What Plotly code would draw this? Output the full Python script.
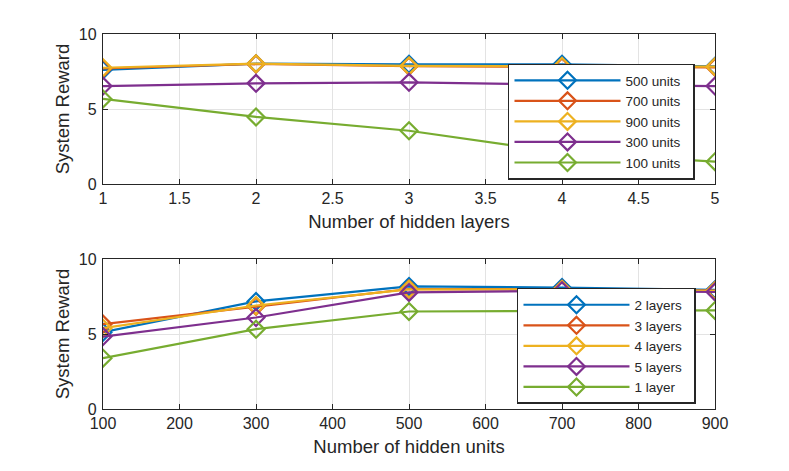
import plotly.graph_objects as go

# top panel: reward vs number of hidden layers
layers = [1, 2, 3, 4, 5]
units_500 = [7.6, 8.02, 7.98, 7.98, 7.85]
units_700 = [7.7, 8.0, 7.85, 7.8, 7.78]
units_900 = [7.75, 8.02, 7.87, 7.85, 7.82]
units_300 = [6.53, 6.71, 6.78, 6.62, 6.53]
units_100 = [5.67, 4.47, 3.55, 2.1, 1.49]

# bottom panel: reward vs number of hidden units
units = [100, 300, 500, 700, 900]
layers_2 = [5.12, 7.17, 8.17, 8.1, 7.95]
layers_3 = [5.66, 6.85, 8.0, 7.98, 7.9]
layers_4 = [5.39, 6.9, 7.98, 7.97, 7.88]
layers_5 = [4.83, 6.1, 7.77, 7.88, 7.8]
layers_1 = [3.39, 5.32, 6.5, 6.55, 6.57]

COLORS = ["#0072BD", "#D95319", "#EDB120", "#7E2F8E", "#77AC30"]
FONT = "Liberation Sans, Arial, sans-serif"
PAD = "\u00a0\u00a0"  # a little room after legend text, like the MATLAB box

fig = go.Figure()

top = [("500 units", units_500), ("700 units", units_700), ("900 units", units_900),
       ("300 units", units_300), ("100 units", units_100)]
for (name, ys), c in zip(top, COLORS):
    fig.add_trace(go.Scatter(x=layers, y=ys, name=name + PAD, mode="lines+markers",
                             line=dict(color=c, width=2.2),
                             marker=dict(symbol="diamond-open", size=13, color=c, line=dict(width=2.2)),
                             xaxis="x", yaxis="y", legend="legend"))

bottom = [("2 layers", layers_2), ("3 layers", layers_3), ("4 layers", layers_4),
          ("5 layers", layers_5), ("1 layer", layers_1)]
for (name, ys), c in zip(bottom, COLORS):
    fig.add_trace(go.Scatter(x=units, y=ys, name=name + PAD, mode="lines+markers",
                             line=dict(color=c, width=2.2),
                             marker=dict(symbol="diamond-open", size=13, color=c, line=dict(width=2.2)),
                             xaxis="x2", yaxis="y2", legend="legend2"))

axis_style = dict(showline=True, mirror="ticks", linecolor="#262626", linewidth=1.4,
                  ticks="inside", ticklen=5, tickcolor="#262626", automargin=False,
                  showgrid=True, gridcolor="#e3e3e3", gridwidth=1, zeroline=False,
                  tickfont=dict(size=16, color="#262626", family=FONT),
                  title_font=dict(size=18.5, color="#262626", family=FONT))

legend_style = dict(bgcolor="white", bordercolor="#262626", borderwidth=1.5,
                    font=dict(size=13.5, color="#262626", family=FONT),
                    itemwidth=106, tracegroupgap=0, xanchor="left", yanchor="middle")

# the page body has an 8px margin, so domains are shifted by 8px up/left
fig.update_layout(
    width=789, height=471,
    margin=dict(l=0, r=0, t=0, b=0),
    paper_bgcolor="white", plot_bgcolor="white",
    showlegend=True,
    xaxis=dict(domain=[0.1204, 0.8961], range=[1, 5], dtick=0.5,
               title=dict(text="Number of hidden layers", standoff=8), anchor="y", **axis_style),
    yaxis=dict(domain=[0.6263, 0.9448], range=[0, 10], dtick=5, ticklabelstandoff=2,
               title=dict(text="System Reward", standoff=4), anchor="x", **axis_style),
    xaxis2=dict(domain=[0.1204, 0.8961], range=[100, 900], dtick=100,
                title=dict(text="Number of hidden units", standoff=8), anchor="y2", **axis_style),
    yaxis2=dict(domain=[0.1486, 0.4671], range=[0, 10], dtick=5, ticklabelstandoff=2,
                title=dict(text="System Reward", standoff=4), anchor="x2", **axis_style),
    legend=dict(x=0.6337, y=0.759, **legend_style),
    legend2=dict(x=0.6451, y=0.2824, **legend_style),
)

fig.write_html("out.html")
